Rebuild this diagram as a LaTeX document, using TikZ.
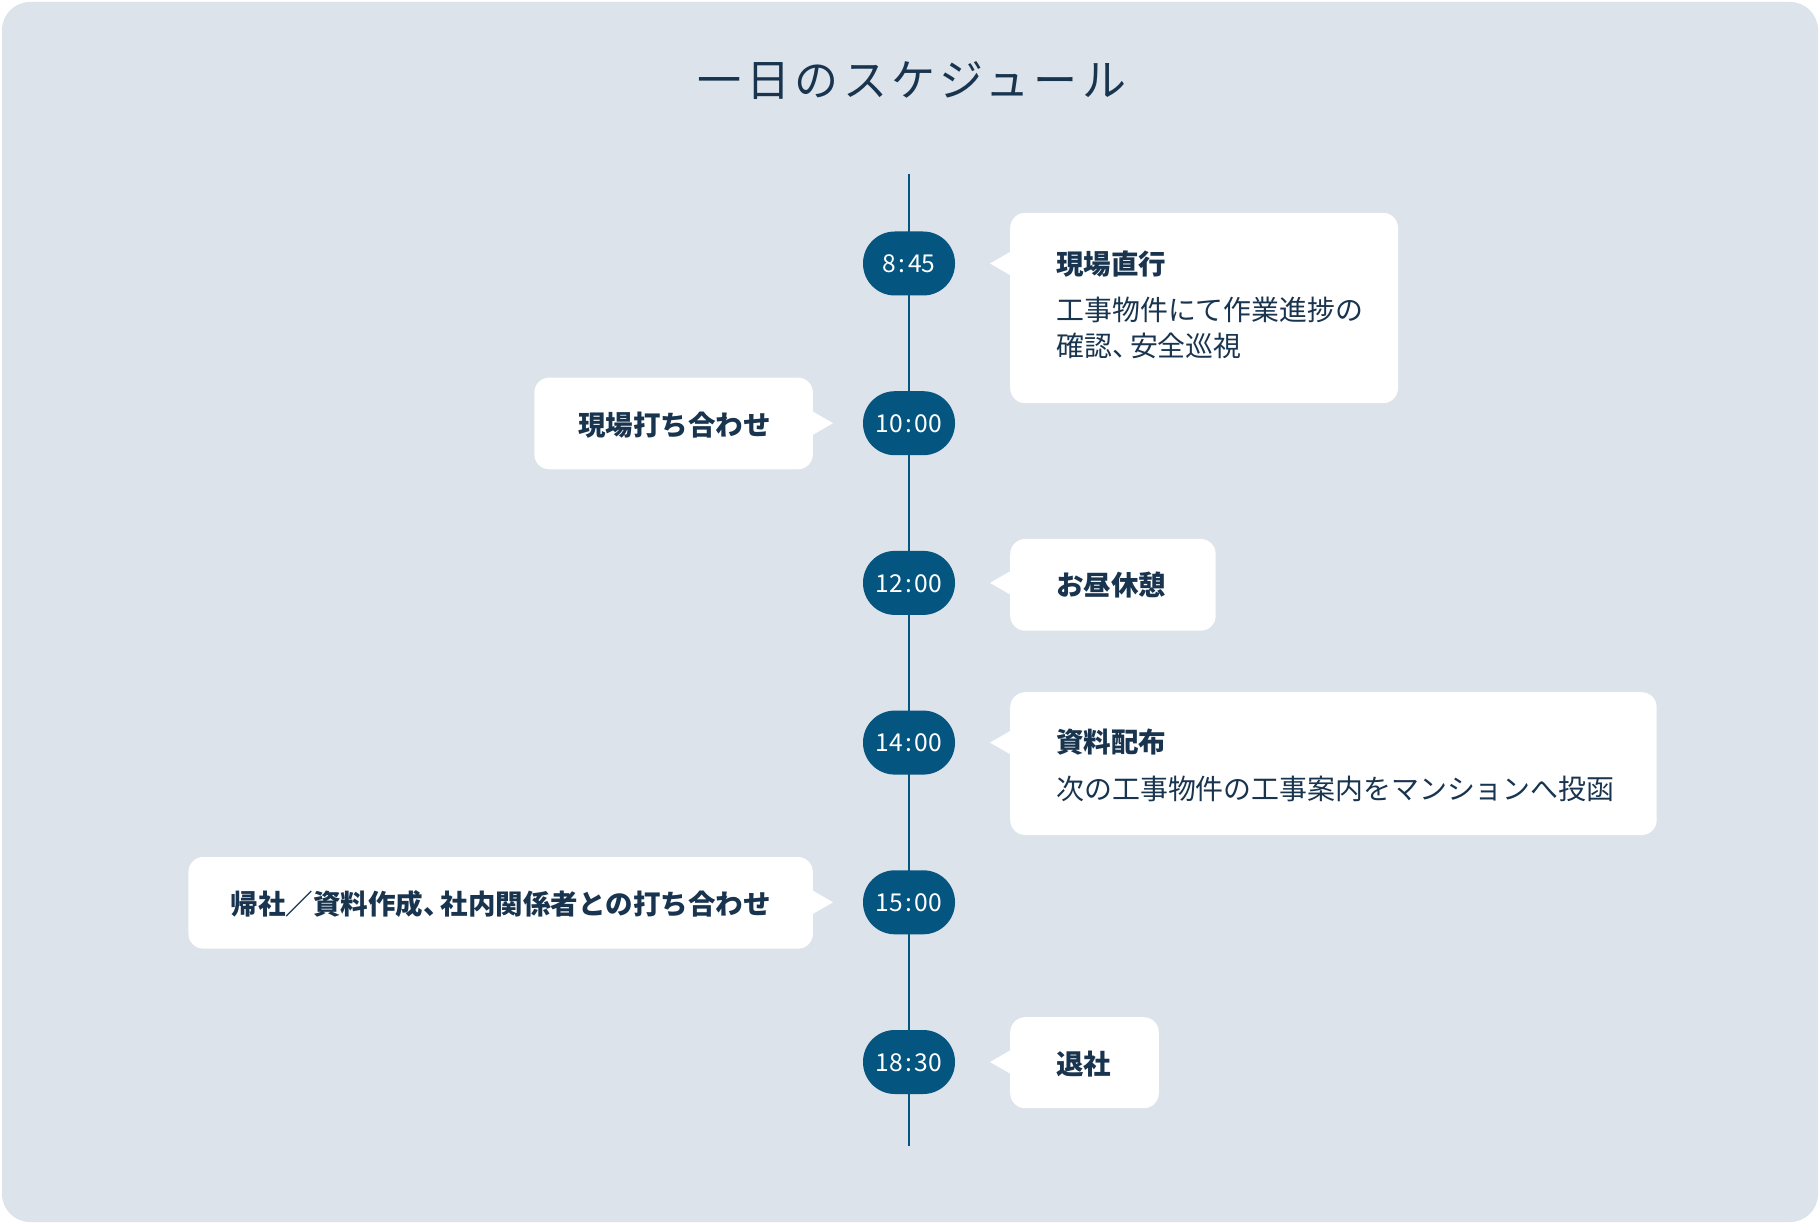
\documentclass[tikz,border=0pt]{standalone}
\usepackage{fontspec}
\setmainfont{Noto Sans CJK JP}
\newfontfamily\titlefont{Noto Sans CJK JP}[LetterSpace=10]
\usetikzlibrary{calc}
\definecolor{bgc}{RGB}{220,227,234}
\definecolor{pillc}{RGB}{4,85,128}
\definecolor{navy}{RGB}{24,52,78}
\newcommand{\tcomma}{、\kern-0.36em}
\newcommand{\tcolon}{\kern.1em:\kern.1em}
\begin{document}
\begin{tikzpicture}[x=0.5pt,y=-0.5pt,
  pill/.style={fill=pillc, rounded corners=15.9pt, minimum width=46pt, minimum height=32pt, inner sep=0pt, text=white, font=\fontsize{12.3}{13}\selectfont, text height=0.92em, text depth=0pt},
  cbox/.style={fill=white, rounded corners=7.5pt, anchor=north west, inner sep=0pt},
  head/.style={text=navy, font=\fontsize{13.75}{14}\selectfont\bfseries, inner sep=0pt, text height=0.88em, text depth=0.12em, yshift=-2.3pt},
  body/.style={text=navy, font=\fontsize{13.95}{14}\selectfont, inner sep=0pt, text height=0.88em, text depth=0.12em, yshift=-2.3pt},
  tline/.style={draw=pillc, line width=1pt},
  ptr/.style={fill=white}
]
\path[use as bounding box] (0,0) rectangle (1820,1224);
\fill[bgc, rounded corners=14pt] (2,2) rectangle (1818,1222);

\node[text=navy, font=\titlefont\fontsize{22}{24}\selectfont, inner sep=0pt, text height=0.88em, text depth=0.12em, yshift=-4.5pt] (title) at (912,80) {一日のスケジュール};

% timeline
\coordinate (ltop) at (909,174);
\coordinate (lbot) at (909,1146);
\draw[tline] (ltop) -- (lbot);

% time pills
\node[pill] (t1) at (909,263.5) {8\tcolon45};
\node[pill] (t2) at (909,423.2) {10\tcolon00};
\node[pill] (t3) at (909,582.9) {12\tcolon00};
\node[pill] (t4) at (909,742.6) {14\tcolon00};
\node[pill] (t5) at (909,902.3) {15\tcolon00};
\node[pill] (t6) at (909,1062) {18\tcolon30};

% boxes
\node[cbox, minimum width=193.9pt, minimum height=95.2pt] (bA) at (1009.8,212.4) {};
\node[cbox, minimum width=139.3pt, minimum height=45.85pt] (bB) at (533.9,377.2) {};
\node[cbox, minimum width=102.75pt, minimum height=45.85pt] (bC) at (1009.8,538.6) {};
\node[cbox, minimum width=323.25pt, minimum height=71.4pt] (bD) at (1009.8,691.8) {};
\node[cbox, minimum width=312.25pt, minimum height=45.85pt] (bE) at (188,856.6) {};
\node[cbox, minimum width=74.3pt, minimum height=45.5pt] (bF) at (1009.8,1016.8) {};

% pointers
\coordinate (pA) at (990,263.5);
\coordinate (qA) at (pA -| bA.west);
\fill[ptr] (pA) -- ($(qA)+(1,-12)$) -- ($(qA)+(1,12)$) -- cycle;
\coordinate (pB) at (833,423.2);
\coordinate (qB) at (pB -| bB.east);
\fill[ptr] (pB) -- ($(qB)+(-1,-12)$) -- ($(qB)+(-1,12)$) -- cycle;
\coordinate (pC) at (990,582.9);
\coordinate (qC) at (pC -| bC.west);
\fill[ptr] (pC) -- ($(qC)+(1,-12)$) -- ($(qC)+(1,12)$) -- cycle;
\coordinate (pD) at (990,742.6);
\coordinate (qD) at (pD -| bD.west);
\fill[ptr] (pD) -- ($(qD)+(1,-12)$) -- ($(qD)+(1,12)$) -- cycle;
\coordinate (pE) at (833,902.3);
\coordinate (qE) at (pE -| bE.east);
\fill[ptr] (pE) -- ($(qE)+(-1,-12)$) -- ($(qE)+(-1,12)$) -- cycle;
\coordinate (pF) at (990,1062);
\coordinate (qF) at (pF -| bF.west);
\fill[ptr] (pF) -- ($(qF)+(1,-12)$) -- ($(qF)+(1,12)$) -- cycle;

% texts
\node[head, anchor=west] (hA) at (1056,262) {現場直行};
\node[body, anchor=west] (dA1) at (1056,308.7) {工事物件にて作業進捗の};
\node[body, anchor=west] (dA2) at (1056,344.7) {確認\tcomma 安全巡視};
\node[head, anchor=east] (hB) at (771,423.2) {現場打ち合わせ};
\node[head, anchor=west] (hC) at (1056,582.9) {お昼休憩};
\node[head, anchor=west] (hD) at (1056,740.5) {資料配布};
\node[body, anchor=west] (dD) at (1056,787) {次の工事物件の工事案内をマンションへ投函};
\node[head, anchor=east] (hE) at (771,902.3) {帰社／資料作成\tcomma 社内関係者との打ち合わせ};
\node[head, anchor=west] (hF) at (1056,1062) {退社};
\end{tikzpicture}
\end{document}
